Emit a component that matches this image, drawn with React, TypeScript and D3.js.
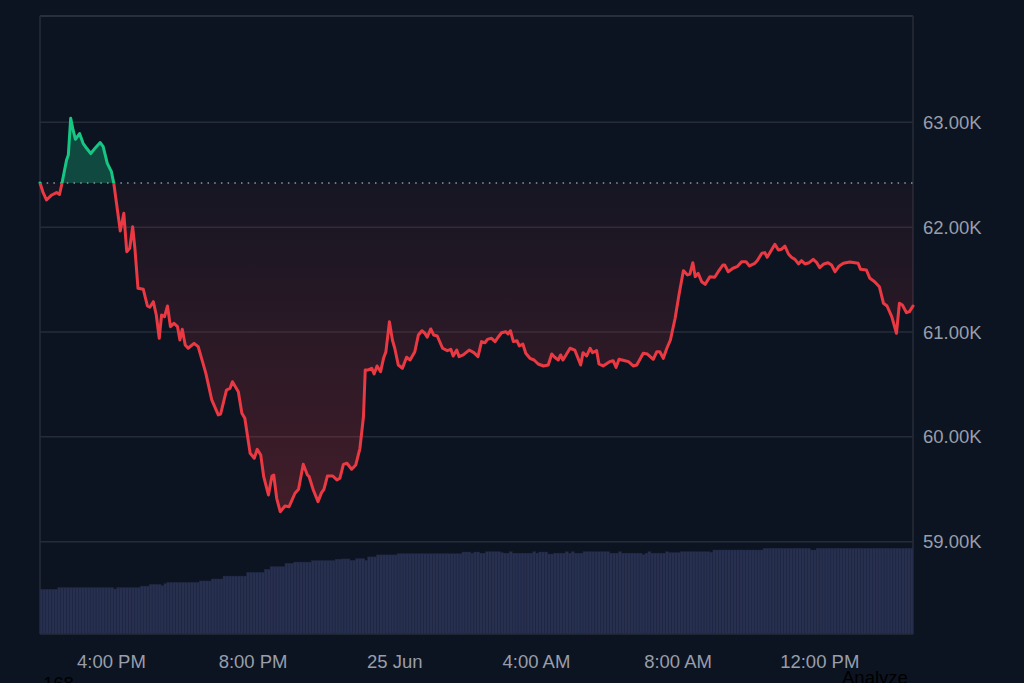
import React from 'react'
import * as d3 from 'd3'

// price readings: [minutes since 24 Jun 13:59, price in USD]
const pricePoints: [number, number][] = [
  [0, 62421], [5, 62335], [11, 62259], [20, 62307], [28, 62330], [33, 62311], [37, 62412],
  [45, 62640], [48, 62688], [52, 63038], [56, 62927], [60, 62838], [67, 62893], [73, 62800],
  [79, 62752], [86, 62702], [94, 62758], [102, 62807], [107, 62767], [114, 62609], [121, 62529],
  [125, 62418], [130, 62211], [136, 61963], [142, 62132], [147, 61766], [152, 61798], [157, 62004],
  [161, 61782], [166, 61417], [175, 61407], [182, 61248], [186, 61236], [192, 61289], [197, 61162],
  [202, 60940], [206, 61162], [211, 61146], [216, 61248], [221, 61051], [227, 61083], [233, 61051],
  [237, 60924], [241, 61026], [246, 60876], [251, 60845], [261, 60892], [268, 60860], [281, 60606],
  [291, 60352], [302, 60209], [306, 60218], [316, 60447], [322, 60463], [326, 60526], [336, 60431],
  [342, 60225], [347, 60177], [356, 59843], [363, 59796], [368, 59881], [374, 59827], [379, 59620],
  [387, 59446], [393, 59627], [396, 59636], [401, 59414], [407, 59286], [415, 59341], [422, 59334],
  [432, 59462], [438, 59500], [446, 59738], [453, 59636], [456, 59620], [463, 59493], [471, 59382],
  [477, 59468], [481, 59500], [487, 59627], [496, 59627], [503, 59589], [508, 59605], [514, 59738],
  [520, 59748], [528, 59691], [535, 59732], [542, 59891], [548, 60192], [551, 60638], [556, 60638],
  [562, 60654], [566, 60600], [571, 60676], [577, 60621], [582, 60749], [586, 60812], [592, 61098],
  [597, 60924], [601, 60845], [607, 60685], [614, 60654], [621, 60759], [627, 60733], [635, 60812],
  [641, 60971], [647, 61012], [652, 60988], [656, 60950], [662, 61029], [667, 60971], [673, 60962],
  [682, 60845], [690, 60822], [696, 60835], [700, 60771], [706, 60828], [710, 60765], [717, 60781],
  [727, 60828], [735, 60803], [742, 60765], [748, 60908], [754, 60898], [758, 60930], [765, 60940],
  [771, 60908], [776, 60950], [782, 60993], [789, 61003], [793, 60981], [797, 61012], [802, 60908],
  [808, 60917], [812, 60867], [818, 60886], [823, 60797], [830, 60749], [837, 60733], [844, 60695],
  [853, 60676], [861, 60685], [867, 60790], [872, 60759], [878, 60733], [882, 60781], [886, 60733],
  [898, 60845], [906, 60828], [916, 60685], [920, 60803], [926, 60771], [932, 60845], [936, 60803],
  [943, 60822], [947, 60695], [954, 60676], [965, 60717], [971, 60726], [976, 60663], [981, 60740],
  [991, 60726], [997, 60717], [1005, 60676], [1011, 60685], [1022, 60797], [1029, 60790], [1039, 60740],
  [1045, 60812], [1050, 60812], [1056, 60749], [1062, 60845], [1068, 60924], [1076, 61131], [1083, 61369],
  [1090, 61585], [1097, 61544], [1101, 61553], [1106, 61661], [1110, 61528], [1115, 61560], [1121, 61480],
  [1127, 61455], [1135, 61528], [1143, 61522], [1149, 61575], [1157, 61639], [1160, 61639], [1166, 61575],
  [1174, 61608], [1181, 61623], [1189, 61671], [1196, 61671], [1202, 61630], [1211, 61655], [1215, 61680],
  [1223, 61751], [1228, 61757], [1232, 61713], [1240, 61789], [1245, 61836], [1251, 61782], [1256, 61789],
  [1262, 61820], [1268, 61744], [1273, 61713], [1279, 61693], [1285, 61649], [1290, 61680], [1296, 61649],
  [1303, 61661], [1310, 61693], [1316, 61661], [1321, 61613], [1328, 61649], [1335, 61661], [1341, 61639],
  [1347, 61575], [1354, 61630], [1361, 61655], [1372, 61668], [1386, 61655], [1390, 61598], [1400, 61591],
  [1406, 61512], [1414, 61480], [1422, 61432], [1429, 61274], [1435, 61248], [1443, 61146], [1451, 60988],
  [1456, 61274], [1461, 61257], [1468, 61184], [1473, 61194], [1479, 61248],
]

// 24h volume (billions USD), one bar per 5 minutes
const volumes: number[] = [
  15.6, 15.6, 15.6, 15.6, 15.6, 15.6, 16.2, 16.2, 16.2, 16.2, 16.2, 16.2, 16.2, 16.2, 16.2, 16.2,
  16.2, 16.2, 16.2, 16.2, 16.2, 16.2, 16.2, 16.2, 16.2, 15.7, 16.2, 16.2, 16.2, 16.2, 16.2, 16.2,
  16.2, 16.2, 16.7, 16.7, 16.7, 17.3, 17.3, 17.3, 17.3, 16.9, 17.6, 18.0, 18.0, 18.0, 18.0, 18.0,
  18.0, 18.0, 18.0, 18.0, 18.0, 18.0, 18.5, 18.5, 18.5, 18.5, 19.2, 19.2, 19.2, 19.2, 20.2, 20.2,
  20.2, 20.2, 20.2, 20.2, 20.2, 20.2, 21.5, 21.5, 21.5, 21.5, 21.5, 21.5, 22.6, 22.6, 23.5, 23.5,
  23.5, 23.5, 23.5, 24.7, 24.7, 24.7, 25.1, 25.1, 25.1, 25.1, 25.1, 25.1, 25.6, 25.6, 25.6, 25.6,
  25.6, 25.6, 25.6, 25.6, 26.1, 26.1, 26.2, 26.2, 26.2, 25.7, 25.7, 26.3, 26.3, 26.3, 25.7, 26.9,
  26.9, 26.9, 27.6, 27.6, 27.6, 27.6, 27.6, 27.6, 27.6, 28.0, 28.0, 28.0, 28.0, 28.0, 28.0, 28.0,
  28.0, 28.0, 28.0, 28.0, 28.0, 28.0, 28.0, 28.0, 28.0, 28.0, 28.0, 28.0, 28.0, 28.0, 28.0, 28.6,
  28.6, 28.6, 28.2, 28.6, 28.6, 28.2, 28.2, 28.7, 28.7, 28.7, 28.7, 28.7, 28.4, 28.2, 28.2, 28.7,
  28.2, 28.2, 28.2, 28.2, 28.2, 28.2, 28.2, 28.7, 28.2, 28.6, 28.6, 28.6, 27.9, 27.9, 28.2, 28.2,
  28.2, 28.2, 28.7, 28.2, 28.7, 28.2, 28.2, 28.2, 28.7, 28.7, 28.7, 28.7, 28.7, 28.7, 28.7, 28.7,
  28.7, 28.2, 28.2, 28.2, 28.7, 28.2, 28.2, 28.2, 28.2, 28.2, 28.2, 28.2, 27.7, 28.2, 28.7, 28.2,
  28.2, 28.2, 28.2, 28.2, 28.7, 28.4, 28.4, 28.4, 28.4, 28.7, 28.7, 28.7, 28.7, 28.7, 28.7, 28.7,
  28.7, 28.7, 28.7, 28.5, 29.3, 29.3, 29.3, 29.3, 29.3, 29.3, 29.3, 29.3, 29.3, 29.3, 29.3, 29.3,
  29.3, 29.3, 29.3, 29.3, 29.3, 29.9, 29.9, 29.9, 29.9, 29.9, 29.9, 29.9, 29.9, 29.9, 29.9, 29.9,
  29.9, 29.9, 29.9, 29.9, 29.9, 29.3, 29.3, 29.9, 29.9, 29.9, 29.9, 29.9, 29.9, 29.9, 29.9, 29.9,
  29.9, 29.9, 29.9, 29.9, 29.9, 29.9, 29.9, 29.9, 29.9, 29.9, 29.9, 29.9, 29.9, 29.9, 29.9, 29.9,
  29.9, 29.9, 29.9, 29.9, 29.9, 29.9, 29.9, 29.9,
]

const priceTicks = [59000, 60000, 61000, 62000, 63000]
const startTime = new Date(2024, 5, 24, 13, 59)
const endMinute = 1479

const W = 1024
const H = 683
const left = 40
const right = 913
const top = 16
const bottom = 634

const BG = '#0d1421'
const RED = '#ea3943'
const GREEN = '#16c784'
const LABEL = '#989eab'
const FONT = '"Liberation Sans", Arial, sans-serif'

const atMinute = (m: number) => new Date(startTime.getTime() + m * 60000)

export default function App() {
  const x = d3.scaleTime().domain([startTime, atMinute(endMinute)]).range([left, right])
  const y = d3.scaleLinear().domain([59000, 63000]).range([541.7, 122.3])
  const yVol = d3.scaleLinear().domain([0, 30]).range([bottom, 548])

  const openPrice = pricePoints[0][1]
  const baseY = y(openPrice)
  const minY = y(d3.min(pricePoints, d => d[1]) as number)

  const line = d3
    .line<[number, number]>()
    .x(d => x(atMinute(d[0])))
    .y(d => y(d[1]))
  const area = d3
    .area<[number, number]>()
    .x(d => x(atMinute(d[0])))
    .y0(baseY)
    .y1(d => y(d[1]))

  const linePath = line(pricePoints) || ''
  const areaPath = area(pricePoints) || ''

  const timeTicks = x.ticks(d3.timeHour.every(4) as d3.TimeInterval)
  const fmtTime = (d: Date) =>
    d.getHours() === 0 ? d3.timeFormat('%-d %b')(d) : d3.timeFormat('%-I:%M %p')(d)

  return (
    <div style={{ position: 'fixed', inset: 0, background: BG }}>
      <svg width={W} height={H} style={{ display: 'block' }}>
        <defs>
          <clipPath id="above">
            <rect x={0} y={0} width={W} height={baseY} />
          </clipPath>
          <clipPath id="below">
            <rect x={0} y={baseY} width={W} height={H - baseY} />
          </clipPath>
          <linearGradient id="redFill" gradientUnits="userSpaceOnUse" x1={0} y1={baseY} x2={0} y2={minY}>
            <stop offset="0%" stopColor={RED} stopOpacity={0.04} />
            <stop offset="100%" stopColor={RED} stopOpacity={0.24} />
          </linearGradient>
        </defs>

        {/* frame */}
        <line x1={left} x2={right} y1={top} y2={top} stroke="#343946" strokeWidth={1.5} />
        <line x1={left} x2={left} y1={top} y2={bottom} stroke="#262b37" strokeWidth={1.5} />
        <line x1={right} x2={right} y1={top} y2={bottom} stroke="#262b37" strokeWidth={1.5} />

        {/* volume */}
        <g>
          {volumes.map((v, i) => {
            const x0 = x(atMinute(i * 5))
            const x1 = Math.min(x(atMinute((i + 1) * 5)), right)
            return (
              <rect
                key={i}
                x={x0}
                y={yVol(v)}
                width={Math.max(0, x1 - x0)}
                height={bottom - yVol(v)}
                fill="#27304f"
                stroke="#1f2743"
                strokeWidth={0.4}
              />
            )
          })}
        </g>
        <line x1={left} x2={right} y1={bottom} y2={bottom} stroke="#262b37" strokeWidth={1.5} />

        {/* grid */}
        {priceTicks.map(t => (
          <line key={t} x1={left} x2={right} y1={y(t)} y2={y(t)} stroke="#262b37" strokeWidth={1.5} />
        ))}

        {/* areas */}
        <path d={areaPath} fill="url(#redFill)" clipPath="url(#below)" />
        <path d={areaPath} fill={GREEN} fillOpacity={0.3} clipPath="url(#above)" />

        {/* open price */}
        <line
          x1={left}
          x2={right}
          y1={baseY}
          y2={baseY}
          stroke="#9097a3"
          strokeWidth={1.5}
          strokeDasharray="1.5,5.2"
        />

        {/* price line */}
        <path d={linePath} fill="none" stroke={RED} strokeWidth={3} strokeLinejoin="round" strokeLinecap="round" clipPath="url(#below)" />
        <path d={linePath} fill="none" stroke={GREEN} strokeWidth={3} strokeLinejoin="round" strokeLinecap="round" clipPath="url(#above)" />

        {/* y axis labels */}
        {priceTicks.map(t => (
          <text key={t} x={923} y={y(t) + 6.5} fill={LABEL} fontFamily={FONT} fontSize={18.5}>
            {(t / 1000).toFixed(2)}K
          </text>
        ))}

        {/* x axis labels */}
        {timeTicks.map(t => (
          <text
            key={t.getTime()}
            x={x(t)}
            y={667.5}
            fill={LABEL}
            fontFamily={FONT}
            fontSize={18.5}
            textAnchor="middle"
          >
            {fmtTime(t)}
          </text>
        ))}

        {/* page text below the chart, cut by the window edge as in the original */}
        <text x={43} y={690} fill="#000" fontFamily={FONT} fontSize={18.5}>168</text>
        <text x={842} y={683.5} fill="#000" fontFamily={FONT} fontSize={18.5}>Analyze</text>
      </svg>
    </div>
  )
}
